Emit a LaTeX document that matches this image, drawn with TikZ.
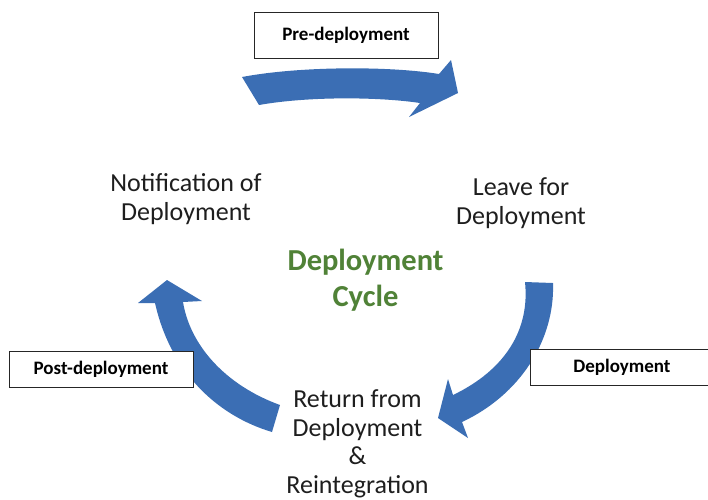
\documentclass[tikz,border=0pt]{standalone}
\usepackage{fontspec}
\setmainfont{Carlito}
\definecolor{arrowblue}{RGB}{59,110,180}
\definecolor{cyclegreen}{RGB}{80,130,55}
\definecolor{txtgray}{RGB}{30,30,30}
\begin{document}
\begin{tikzpicture}[x=1pt,y=-1pt,
  bigarrow/.style={fill=arrowblue},
  phasebox/.style={draw=black!85, line width=0.9pt, fill=white, minimum width=184pt, inner sep=0pt,
    font=\fontsize{19}{22}\selectfont\bfseries, text=black},
  stage/.style={align=center, text=txtgray, font=\fontsize{26}{28.5}\selectfont, anchor=base, inner sep=0pt},
  ]
\useasboundingbox (0,0) rectangle (708,499);
% top arrow
\fill[bigarrow] (242,77) .. controls (300,66) and (390,66) .. (439,74) -- (451,60) -- (458,93)
  -- (409,117) -- (420,103) .. controls (380,97) and (310,96) .. (259,105) -- cycle;
% right arrow
\fill[bigarrow] (525,282) -- (553,283) .. controls (555,340) and (520,395) .. (462,422)
  -- (468,438) -- (438,418) -- (448,379) -- (453,395) .. controls (505,370) and (530,330) .. (525,282) -- cycle;
% left arrow
\fill[bigarrow] (280,405) -- (272,432) .. controls (215,415) and (170,370) .. (155,303)
  -- (138,303) -- (167,280) -- (202,301) -- (183,302) .. controls (190,345) and (225,385) .. (280,405) -- cycle;
% phase boxes
\node[phasebox, minimum height=46pt] (pre) at (346,35) {Pre-deployment};
\node[phasebox, minimum height=36pt] (dep) at (622,367) {Deployment};
\node[phasebox, minimum height=36pt] (post) at (101,369) {Post-deployment};
% stage labels (base anchor = baseline of last line)
\node[stage] (notif) at (186,220) {Notification of\\Deployment};
\node[stage] (leave) at (521,224.3) {Leave for\\Deployment};
\node[stage] (ret) at (357.5,493) {Return from\\Deployment\\\&\\Reintegration};
\node[stage, text=cyclegreen, font=\fontsize{30.5}{36.7}\selectfont\bfseries] (cycle) at (365.5,306.7) {Deployment\\Cycle};
\end{tikzpicture}
\end{document}
